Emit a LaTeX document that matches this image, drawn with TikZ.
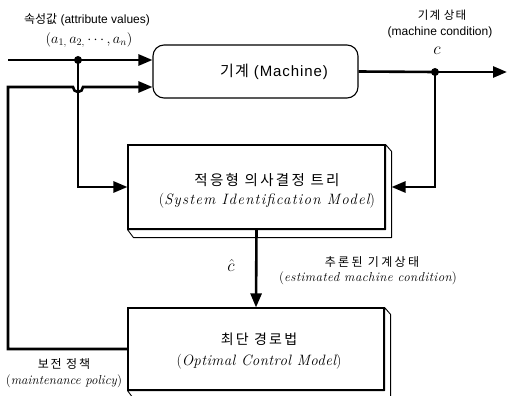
\documentclass[tikz,border=0pt]{standalone}
\usepackage{fontspec}
\setmainfont{Latin Modern Roman}
\usetikzlibrary{arrows.meta,calc}
\newfontfamily\kr{Noto Sans CJK KR}
\newfontfamily\sans{Liberation Sans}
\newcommand{\ls}[1]{\addfontfeature{LetterSpace=#1}}
\newcommand{\itls}[2]{{\itshape\addfontfeature{LetterSpace=#1}#2}}
\begin{document}
\begin{tikzpicture}[x=1pt,y=-1pt,
  flow/.style={line width=2.6pt},
  arr/.style={flow,-{Triangle[length=14pt,width=11pt]}},
  box/.style={draw,line width=1.1pt,fill=white,inner sep=0pt},
  bevel/.style={draw,line width=0.9pt,fill=white,line join=round},
  dotnode/.style={circle,fill=black,inner sep=0pt,minimum size=8pt},
  lbl/.style={inner sep=0pt,align=center}]
\useasboundingbox (0,0) rectangle (507,396);
\clip (0,0) rectangle (507,396);

% machine
\node[box,rounded corners=11pt,minimum width=205pt,minimum height=53pt] (machine) at (255.5,71.5) {};
\node[lbl] (machinetext) at (274,72) {{\kr\fontsize{15}{17}\selectfont\ls{8}기계}\hspace{5pt}{\sans\fontsize{15}{17}\selectfont\ls{6}(Machine)}};

% identification model, with its raised edge
\node[box,minimum width=257pt,minimum height=84pt] (sim) at (256.5,187) {};
\draw[bevel] (sim.north east) -- ++(6,7) -- ($(sim.south east)+(6,8)$) -- ($(sim.south west)+(6,8)$) -- (sim.south west) -- (sim.south east) -- cycle;
\node[lbl] (simtext) at (267,191) {{\kr\fontsize{14.5}{16}\selectfont\ls{16}적응형 의사결정 트리}\\[6pt]
  {\fontsize{15}{17}\selectfont(\itls{8}{System Identification Model})}};

% control model, with its raised edge
\node[box,minimum width=256pt,minimum height=82pt] (ocm) at (256,349) {};
\draw[bevel] (ocm.north east) -- ++(6,7) -- ($(ocm.south east)+(6,8)$) -- ($(ocm.south west)+(6,8)$) -- (ocm.south west) -- (ocm.south east) -- cycle;
\node[lbl] (ocmtext) at (259,351) {{\kr\fontsize{14}{16}\selectfont\ls{16}최단 경로법}\\[7pt]
  {\fontsize{15}{17}\selectfont(\itls{2.5}{Optimal Control Model})}};

% junction points
\node[dotnode] (split) at (78,60) {};
\node[dotnode] (tap) at (435,72) {};
\coordinate (inA) at (8,60);
\coordinate (outEnd) at (507,72);
\coordinate (leftTop) at (8,87);
\coordinate (leftBot) at (8,349);

% attribute input and its branch to the identification model
\draw[arr] (inA) -- (split.center) -- (machine.west |- split);
\draw[arr] (split.center) |- (sim.west);

% machine output and its branch
\draw[flow] (machine.east) -- (tap.center);
\draw[arr] (tap.center) -- (outEnd);
\draw[arr] (tap.center) |- ($(sim.east)+(6,0)$);

% estimated condition
\draw[arr] (sim.south) -- (ocm.north);

% maintenance policy feedback, hopping over the branch line
\draw[arr] (ocm.west) -- (leftBot) -- (leftTop) -- (73,87) arc[start angle=180,end angle=0,radius=5] -- (machine.west |- leftTop);

% labels
\node[lbl] (attrlbl) at (87,20) {{\kr\fontsize{12}{14}\selectfont 속성값} {\sans\fontsize{12}{14}\selectfont (attribute values)}};
\node[lbl,font=\fontsize{14}{16}\selectfont] (attrvec) at (89,40) {$(a_{1,}\,a_{2,}\cdots,a_n)$};
\node[lbl] (condkr) at (442,15) {\kr\fontsize{11.5}{13}\selectfont\ls{10}기계 상태};
\node[lbl] (condlbl) at (440,32) {\sans\fontsize{12}{14}\selectfont (machine condition)};
\node[lbl,font=\fontsize{16}{18}\selectfont] (clbl) at (437,51) {$c$};
\node[lbl,font=\fontsize{18}{20}\selectfont] (chat) at (231,265) {$\hat{c}$};
\node[lbl] (estkr) at (372,262) {\kr\fontsize{12}{14}\selectfont\ls{20}추론된 기계상태};
\node[lbl] (estlbl) at (368,278) {\fontsize{13}{15}\selectfont(\itls{3}{estimated machine condition})};
\node[lbl] (polkr) at (64,364) {\kr\fontsize{12}{14}\selectfont\ls{15}보전 정책};
\node[lbl] (pollbl) at (64,381) {\fontsize{13}{15}\selectfont(\textit{maintenance policy})};
\end{tikzpicture}
\end{document}
